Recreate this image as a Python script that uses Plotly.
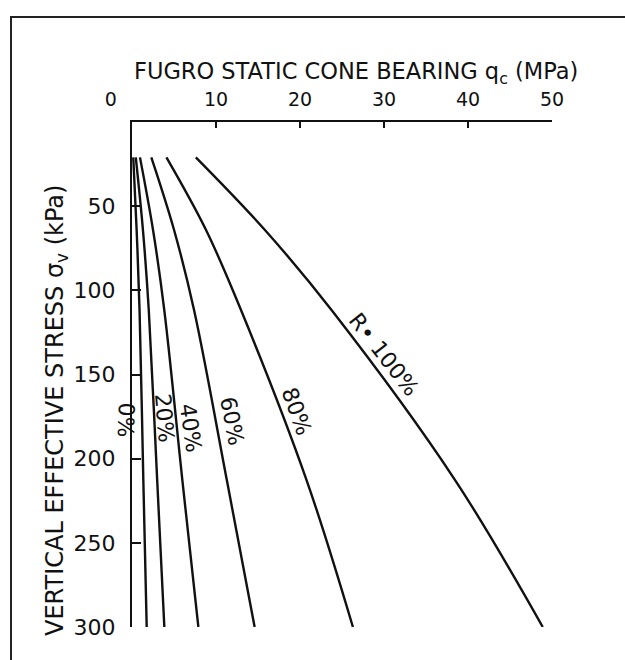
import plotly.graph_objects as go

# ---- data ----
stress_kpa = [21, 64, 112, 213, 300]
qc_0 = [0.15, 0.55, 0.9, 1.35, 1.75]
qc_20 = [0.45, 1.3, 2.0, 3.0, 3.85]
qc_40 = [0.95, 2.5, 3.85, 6.0, 7.9]
qc_60 = [2.3, 5.0, 7.4, 11.3, 14.6]
qc_80 = [4.1, 8.8, 13.0, 20.8, 26.3]
qc_100 = [7.6, 15.8, 23.8, 38.5, 48.9]

curve_names = ["0%", "20%", "40%", "60%", "80%", "R• 100%"]
x_tick_vals = [0, 10, 20, 30, 40, 50]
x_tick_text = ["0", "10", "20", "30", "40", "50"]
y_tick_vals = [50, 100, 150, 200, 250, 300]
y_tick_text = ["50", "100", "150", "200", "250", "300"]

x_title = "FUGRO STATIC CONE BEARING q<sub>c</sub> (MPa)"
y_title = "VERTICAL EFFECTIVE STRESS σ<sub>v</sub> (kPa)"

# ---- layout constants (pixels) ----
W, H = 625, 660
L, R, T, B = 132, 73, 122, 33
PW, PH = W - L - R, H - T - B
FONT = "DejaVu Sans"
INK = "#111111"


def px_to_paper(px, py):
    return (px - L) / PW, (H - B - py) / PH


fig = go.Figure()
series = [qc_0, qc_20, qc_40, qc_60, qc_80, qc_100]
for name, q in zip(curve_names, series):
    fig.add_trace(go.Scatter(
        x=q, y=stress_kpa, mode="lines", name=name,
        line=dict(color=INK, width=2.4, shape="spline", smoothing=1.0),
        showlegend=False, hoverinfo="skip",
    ))

# curve labels: (x, y, x pixel shift, rotation) along each curve
label_place = [
    (0.05, 177, -7, 92),
    (3.9, 176, 0, 85),
    (7.0, 182, 0, 82),
    (11.9, 178, 0, 79),
    (19.6, 172, 0, 70),
    (30.0, 138, 0, 52),
]
for name, (lx, ly, sx, ang) in zip(curve_names, label_place):
    fig.add_annotation(
        x=lx, y=ly, xref="x", yref="y", text=name, showarrow=False,
        xshift=sx, textangle=ang,
        font=dict(family=FONT, size=22, color=INK),
        xanchor="center", yanchor="middle",
    )

tx, ty = px_to_paper(356, 73)
fig.add_annotation(x=tx, y=ty, xref="paper", yref="paper", text=x_title,
                   showarrow=False, xanchor="center", yanchor="middle",
                   font=dict(family=FONT, size=22.5, color=INK))
yx, yy = px_to_paper(56, 411)
fig.add_annotation(x=yx, y=yy, xref="paper", yref="paper", text=y_title,
                   showarrow=False, xanchor="center", yanchor="middle",
                   textangle=-90, font=dict(family=FONT, size=24, color=INK))

# outer frame (left and top border of the scanned page)
x0, y0 = px_to_paper(11, 662)
x1, y1 = px_to_paper(11, 17)
x2, _ = px_to_paper(627, 17)
fig.add_shape(type="path", xref="paper", yref="paper",
              path=f"M {x0} {y0} L {x1} {y1} L {x2} {y1}",
              line=dict(color="#222222", width=2))

x_tick_text_disp = list(x_tick_text)
x_tick_text_disp[0] = x_tick_text[0] + "\u00a0" * 7

fig.update_layout(
    width=W, height=H, autosize=False,
    margin=dict(l=L, r=R, t=T, b=B, pad=0),
    paper_bgcolor="white", plot_bgcolor="white",
    xaxis=dict(
        side="top", range=[0, 50], showgrid=False, zeroline=False,
        showline=True, linecolor=INK, linewidth=2.2,
        ticks="inside", ticklen=6, tickwidth=1.5, tickcolor=INK,
        tickvals=x_tick_vals, ticktext=x_tick_text_disp,
        tickfont=dict(family=FONT, size=19, color=INK),
        ticklabelstandoff=6,
    ),
    yaxis=dict(
        range=[300, 0], showgrid=False, zeroline=False,
        showline=True, linecolor=INK, linewidth=2.2,
        ticks="inside", ticklen=9, tickwidth=2, tickcolor=INK,
        tickvals=y_tick_vals, ticktext=y_tick_text,
        tickfont=dict(family=FONT, size=22, color=INK),
        ticklabelstandoff=10,
    ),
)

fig.write_html("out.html")
